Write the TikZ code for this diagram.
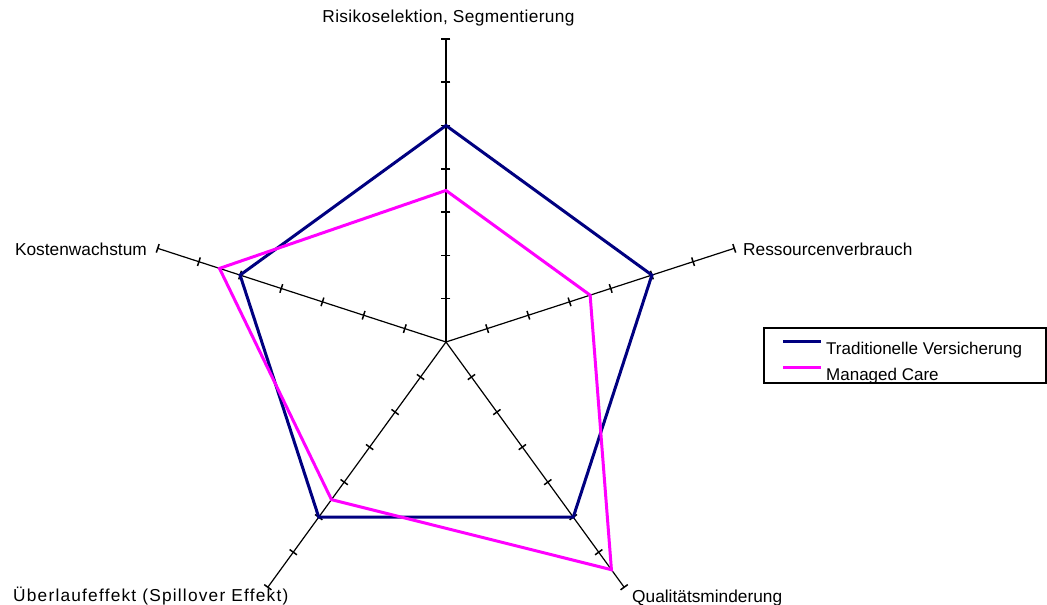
\documentclass[tikz,border=0pt]{standalone}
\usepackage{fontspec}
\setmainfont{Liberation Sans}
\definecolor{tradblue}{RGB}{0,0,128}
\definecolor{mcmagenta}{RGB}{255,0,255}
\tikzset{
  axisline/.style={line width=1.2pt},
  axistick/.style={line width=1.5pt},
  series/.style={line width=3pt},
  lbl/.style={font=\fontsize{17.3}{20}\selectfont, inner sep=0pt},
  keylbl/.style={font=\fontsize{17}{20}\selectfont, inner sep=0pt}
}
\begin{document}
\begin{tikzpicture}[x=43.3pt,y=43.3pt]
      \useasboundingbox (-446pt,-263pt) rectangle (601pt,342pt);
      \coordinate (O) at (0,0);
      \coordinate (a1) at (90:7);
      \coordinate (a2) at (18:7);
      \coordinate (a3) at (-54:7);
      \coordinate (a4) at (-126:7);
      \coordinate (a5) at (162:7);
      % axes
      \begin{scope}[axisline]
        \draw (O) to (a1);
        \draw (O) to (a2);
        \draw (O) to (a3);
        \draw (O) to (a4);
        \draw (O) to (a5);
      \end{scope}
      \foreach \a in {90,18,-54,-126,162}
        \foreach \k in {1,...,7}
          \draw[axistick,rotate=\a] (\k,-4.5pt) -- (\k,4.5pt);
      % labels
      \node[lbl,anchor=base] (l1) at (2.5pt,319pt) {\addfontfeature{LetterSpace=2}Risikoselektion, Segmentierung};
      \node[lbl,anchor=base west] (l2) at (297pt,86pt) {Ressourcenverbrauch};
      \node[lbl,anchor=base west] (l3) at (186pt,-260pt) {Qualitätsminderung};
      \node[lbl,anchor=base west] (l4) at (-433pt,-259pt) {\addfontfeature{LetterSpace=7}Überlaufeffekt (Spillover Effekt)};
      \node[lbl,anchor=base east] (l5) at (-299pt,86pt) {Kostenwachstum};
      % data
      \coordinate (t1) at (90:5);
      \coordinate (t2) at (18:5);
      \coordinate (t3) at (-54:5);
      \coordinate (t4) at (-126:5);
      \coordinate (t5) at (162:5);
      \coordinate (m1) at (90:3.5);
      \coordinate (m2) at (18:3.5);
      \coordinate (m3) at (-54:6.5);
      \coordinate (m4) at (-126:4.5);
      \coordinate (m5) at (162:5.5);
      \draw[series,tradblue] (t1) -- (t2) -- (t3) -- (t4) -- (t5) -- cycle;
      \draw[series,mcmagenta] (m1) -- (m2) -- (m3) -- (m4) -- (m5) -- cycle;
      % legend
      \coordinate (k1) at (337pt,0pt);
      \coordinate (k2) at (375pt,0pt);
      \coordinate (k3) at (337pt,-26pt);
      \coordinate (k4) at (375pt,-26pt);
      \draw[series,tradblue] (k1) -- (k2);
      \draw[series,mcmagenta] (k3) -- (k4);
      \begin{scope}
        \clip (318pt,14pt) rectangle (600pt,-41pt);
        \node[keylbl,anchor=base west] (e1) at (380pt,-13pt) {Traditionelle Versicherung};
        \node[keylbl,anchor=base west] (e2) at (380pt,-38pt) {Managed Care};
      \end{scope}
      \draw[line width=1.2pt] (318pt,14pt) rectangle (600pt,-41pt);
    \end{tikzpicture}
\end{document}
